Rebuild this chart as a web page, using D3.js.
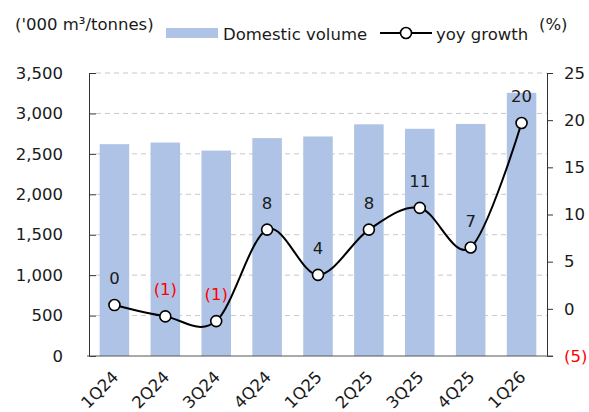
<!DOCTYPE html>
<html>
<head>
<meta charset="utf-8">
<script src="https://cdn.jsdelivr.net/npm/d3@7"></script>
<style>
	body { margin: 0; background: #fff; }
	svg { display: block; }
	svg text { font-family: "DejaVu Sans", Verdana, sans-serif; }
</style>
</head>
<body>
<svg id="svg" width="589" height="412"></svg>
<script>
"use strict";

// data
const quarters = ["1Q24", "2Q24", "3Q24", "4Q24", "1Q25", "2Q25", "3Q25", "4Q25", "1Q26"];
const volume = [2620, 2640, 2540, 2695, 2715, 2865, 2810, 2870, 3255];
const growth = [0.4, -0.8, -1.3, 8.4, 3.6, 8.4, 10.7, 6.5, 19.7];
const leftTicks = [0, 500, 1000, 1500, 2000, 2500, 3000, 3500];
const rightTicks = [-5, 0, 5, 10, 15, 20, 25];

const svg = d3.select("#svg");

const plot = { left: 89, right: 547, top: 73, bottom: 356 };
const fs = 16.5; // base font size

const x = d3
	.scaleBand()
	.domain(quarters)
	.range([plot.left, plot.right])
	.paddingInner(0.42)
	.paddingOuter(0.21);

const yL = d3.scaleLinear().domain([0, 3500]).range([plot.bottom, plot.top]);
const yR = d3.scaleLinear().domain([-5, 25]).range([plot.bottom, plot.top]);

// format negatives in brackets
const fmt = (v) => (v < 0 ? `(${Math.abs(v)})` : `${v}`);

// dashed gridlines
svg.append("g")
	.selectAll("line")
	.data(leftTicks.filter((d) => d > 0))
	.enter()
	.append("line")
	.attr("x1", plot.left + 7)
	.attr("x2", plot.right)
	.attr("y1", (d) => yL(d))
	.attr("y2", (d) => yL(d))
	.attr("stroke", "#c8c8c8")
	.attr("stroke-width", 1)
	.attr("stroke-dasharray", "5,4");

// bars
svg.append("g")
	.selectAll("rect")
	.data(volume)
	.enter()
	.append("rect")
	.attr("x", (d, i) => x(quarters[i]))
	.attr("y", (d) => yL(d))
	.attr("width", x.bandwidth())
	.attr("height", (d) => plot.bottom - yL(d))
	.attr("fill", "#aec3e5");

// left axis
const axL = svg
	.append("g")
	.attr("transform", `translate(${plot.left},0)`)
	.call(d3.axisLeft(yL).tickValues(leftTicks).tickFormat(d3.format(",")).tickSizeInner(-7).tickSizeOuter(0).tickPadding(26))
	.attr("font-family", null)
	.attr("font-size", fs);
axL.select(".domain").attr("stroke", "#333");
axL.selectAll(".tick line").attr("stroke", "#333");
axL.selectAll("text").attr("fill", "#1a1a1a");

// right axis
const axR = svg
	.append("g")
	.attr("transform", `translate(${plot.right},0)`)
	.call(d3.axisRight(yR).tickValues(rightTicks).tickFormat(fmt).tickSizeInner(6).tickSizeOuter(0).tickPadding(11))
	.attr("font-family", null)
	.attr("font-size", fs);
axR.select(".domain").attr("stroke", "#333");
axR.selectAll(".tick line").attr("stroke", "#333");
axR.selectAll("text").attr("fill", (d) => (d < 0 ? "#ff0000" : "#1a1a1a"));

// bottom axis
const axB = svg
	.append("g")
	.attr("transform", `translate(0,${plot.bottom})`)
	.call(d3.axisBottom(x).tickSize(0).tickPadding(0))
	.attr("font-family", null)
	.attr("font-size", fs);
axB.select(".domain").attr("stroke", "#555").attr("d", `M${plot.left - 2},0H${plot.right + 6}`);
axB.selectAll("text")
	.attr("fill", "#1a1a1a")
	.attr("text-anchor", "end")
	.attr("dy", null)
	.attr("y", null)
	.attr("transform", "translate(5,22) rotate(-45)");

// yoy growth line
const line = d3
	.line()
	.x((d, i) => x(quarters[i]) + x.bandwidth() / 2)
	.y((d) => yR(d))
	.curve(d3.curveCardinal.tension(0));

svg.append("path")
	.datum(growth)
	.attr("d", line)
	.attr("fill", "none")
	.attr("stroke", "#000")
	.attr("stroke-width", 2);

svg.append("g")
	.selectAll("circle")
	.data(growth)
	.enter()
	.append("circle")
	.attr("cx", (d, i) => x(quarters[i]) + x.bandwidth() / 2)
	.attr("cy", (d) => yR(d))
	.attr("r", 5.5)
	.attr("fill", "#fff")
	.attr("stroke", "#000")
	.attr("stroke-width", 1.6);

// data labels
svg.append("g")
	.selectAll("text")
	.data(growth)
	.enter()
	.append("text")
	.attr("x", (d, i) => x(quarters[i]) + x.bandwidth() / 2)
	.attr("y", (d) => yR(d) - 21)
	.attr("text-anchor", "middle")
	.attr("font-size", fs)
	.attr("fill", (d) => (Math.round(d) < 0 ? "#ff0000" : "#1a1a1a"))
	.text((d) => fmt(Math.round(d)));

// axis titles
svg.append("text")
	.attr("x", 15)
	.attr("y", 30)
	.attr("font-size", fs)
	.attr("fill", "#1a1a1a")
	.text("('000 m³/tonnes)");

svg.append("text")
	.attr("x", 539)
	.attr("y", 30)
	.attr("font-size", fs)
	.attr("fill", "#1a1a1a")
	.text("(%)");

// legend
const legend = svg.append("g");
legend.append("rect")
	.attr("x", 166)
	.attr("y", 28)
	.attr("width", 52)
	.attr("height", 10)
	.attr("fill", "#aec3e5");
legend.append("text")
	.attr("x", 223)
	.attr("y", 40)
	.attr("font-size", fs)
	.attr("fill", "#1a1a1a")
	.text("Domestic volume");
legend.append("line")
	.attr("x1", 380)
	.attr("x2", 432)
	.attr("y1", 33)
	.attr("y2", 33)
	.attr("stroke", "#000")
	.attr("stroke-width", 2);
legend.append("circle")
	.attr("cx", 406)
	.attr("cy", 33)
	.attr("r", 5.5)
	.attr("fill", "#fff")
	.attr("stroke", "#000")
	.attr("stroke-width", 1.6);
legend.append("text")
	.attr("x", 436)
	.attr("y", 40)
	.attr("font-size", fs)
	.attr("fill", "#1a1a1a")
	.text("yoy growth");
</script>
</body>
</html>
